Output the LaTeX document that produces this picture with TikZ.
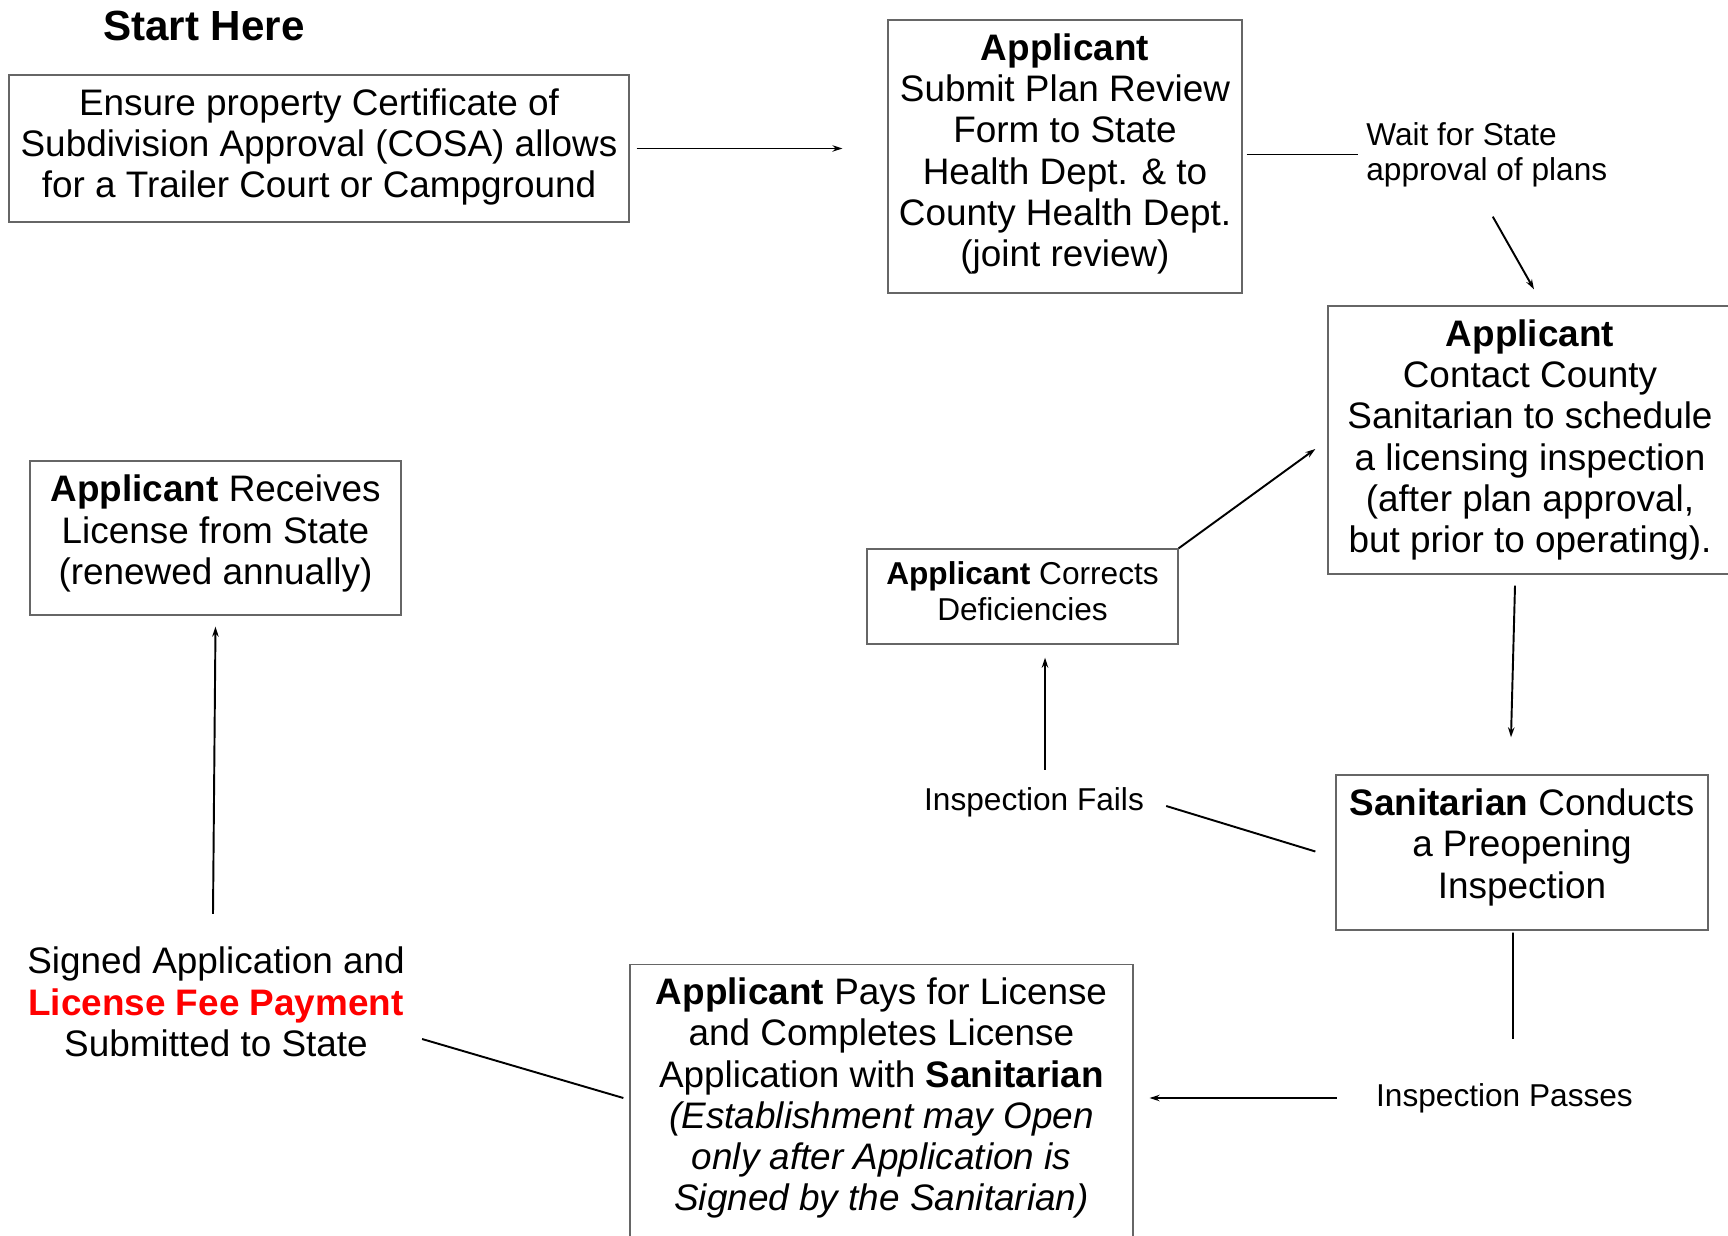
\documentclass[tikz,border=0pt]{standalone}
\usepackage{fontspec}
\setmainfont{Liberation Sans}
\usetikzlibrary{arrows.meta,calc}
\newcommand{\boxsize}{\fontsize{21}{23.5}\selectfont}
\newcommand{\lblsize}{\fontsize{18}{20}\selectfont}
\newcommand{\headsize}{\fontsize{24}{28}\selectfont}
\newcommand{\lift}[1]{\rule[-#1]{0pt}{0pt}}
\begin{document}
\begin{tikzpicture}[
    x=0.02cm, y=-0.02cm,
    stepbox/.style={draw=black!60, line width=0.8pt, align=center, inner sep=0pt, font=\boxsize},
    note/.style={align=center, inner sep=0pt, font=\lblsize},
    link/.style={line width=1.1pt},
    flow/.style={link, -{Stealth[length=2mm,width=1.3mm]}}
    ]
	\useasboundingbox (0,0) rectangle (1728,1236);
	\node [font=\headsize\bfseries] (start) at (204,26) {Start Here};
	\node [stepbox, minimum width=12.4cm, minimum height=2.94cm] (cosa) at (319,148.5)
		{Ensure property Certificate of\\Subdivision Approval (COSA) allows\\for a Trailer Court or Campground\lift{0.215cm}};
	\node [stepbox, minimum width=7.08cm, minimum height=5.46cm] (plan) at (1065,156.5)
		{\textbf{Applicant}\\Submit Plan Review\\Form to State\\Health Dept. \& to\\County Health Dept.\\(joint review)\lift{0.255cm}};
	\node [note, align=left, anchor=west] (wait) at (1366,154.5) {Wait for State\\approval of plans};
	\node [stepbox, minimum width=8.08cm, minimum height=5.36cm] (contact) at (1530,440)
		{\textbf{Applicant}\\Contact County\\Sanitarian to schedule\\a licensing inspection\\(after plan approval,\\but prior to operating).};
	\node [stepbox, minimum width=7.44cm, minimum height=3.1cm] (insp) at (1522,852.5)
		{\textbf{Sanitarian} Conducts\\a Preopening\\Inspection\lift{0.355cm}};
	\node [note] (passes) at (1504.5,1098.5) {Inspection Passes};
	\node [note] (fails) at (1034,802.5) {Inspection Fails};
	\node [stepbox, font=\lblsize, minimum width=6.22cm, minimum height=1.9cm] (corrects) at (1022.5,596.5)
		{\textbf{Applicant} Corrects\\Deficiencies\lift{0.22cm}};
	\node [stepbox, anchor=north, minimum width=10.06cm, inner ysep=0.26cm] (pays) at (881.5,964)
		{\textbf{Applicant} Pays for License\\and Completes License\\Application with \textbf{Sanitarian}\\\textit{(Establishment may Open}\\\textit{only after Application is}\\\textit{Signed by the Sanitarian)}\lift{3cm}};
	\node [align=center, inner sep=0pt, font=\boxsize] (signed) at (216,1002)
		{Signed Application and\\\textcolor{red}{\textbf{License Fee Payment}}\\Submitted to State};
	\node [stepbox, minimum width=7.42cm, minimum height=3.08cm] (receives) at (215.5,538)
		{\textbf{Applicant} Receives\\License from State\\(renewed annually)\lift{0.33cm}};

	\draw [flow] ($(cosa.east)+(7,0)$) -- ($(cosa.east -| plan.west)+(-45,0)$);
	\draw [link] ($(plan.east)+(4,-2)$) -- ($(plan.east -| wait.west)+(-8,-2)$);
	\draw [flow] ($(wait.south)+(6,29.5)$) -- ($(contact.north)+(4,-16)$);
	\draw [flow] ($(contact.south)+(-15,11)$) -- ($(insp.north)+(-11,-37)$);
	\draw [link] ($(insp.south)+(-9,2)$) -- ($(passes.north)+(8.5,-44.5)$);
	\draw [flow] ($(passes.west)+(-39,-0.5)$) -- ($(passes.west -| pays.east)+(16,-0.5)$);
	\draw [link] ($(pays.north west)+(-6,134)$) -- ($(signed.east)+(17,37)$);
	\draw [flow] ($(signed.north)+(-3,-33)$) -- ($(receives.south)+(0,11)$);
	\draw [link] ($(insp.west)+(-20,-1)$) -- ($(fails.east)+(22,3.5)$);
	\draw [flow] ($(fails.north)+(11,-17.5)$) -- ($(corrects.south)+(22.5,13)$);
	\draw [flow] (corrects.north east) -- ($(contact.west)+(-12,9)$);
\end{tikzpicture}
\end{document}
